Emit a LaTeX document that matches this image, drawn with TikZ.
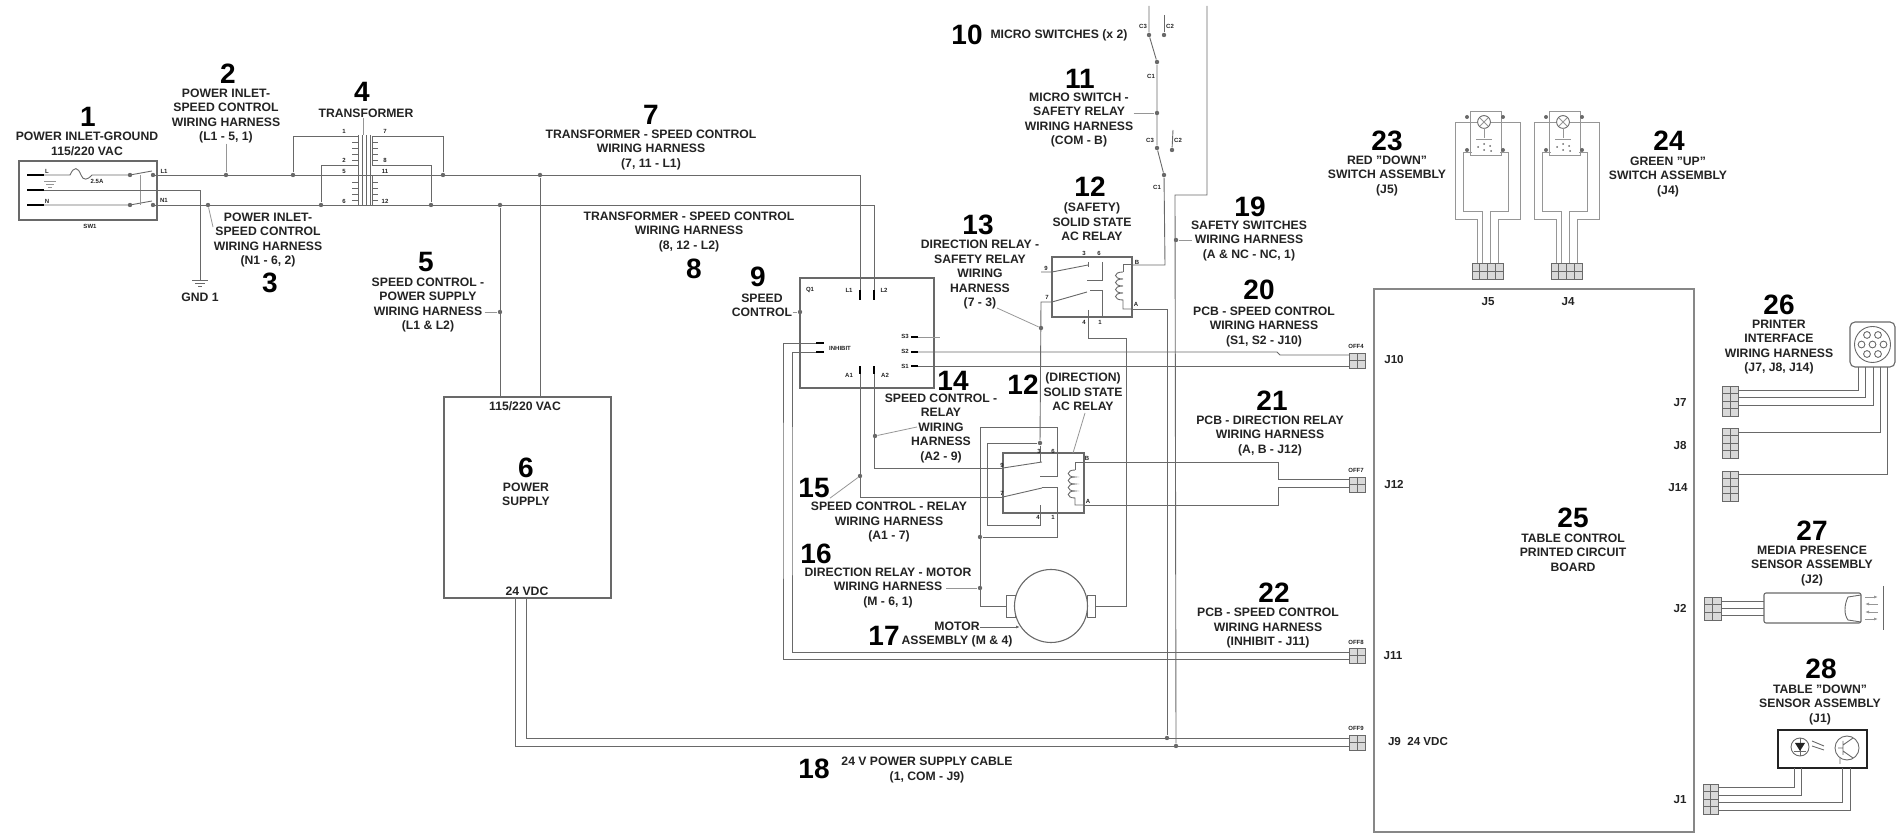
\documentclass[tikz,border=0pt]{standalone}
\usepackage{fontspec}
\setmainfont{Liberation Sans}
\usetikzlibrary{arrows.meta, positioning, calc}
\definecolor{wirecol}{RGB}{105, 105, 105}
\definecolor{inkcol}{RGB}{35, 35, 35}

\tikzset{
    wire/.style={draw=wirecol, line width=0.45pt},
    thinwire/.style={draw=wirecol!70, line width=0.4pt},
    box/.style={draw=wirecol, line width=0.65pt, inner sep=0pt},
    lbl/.style={font=\fontsize{6.1}{7.25}\selectfont\bfseries, text=inkcol, align=center, inner sep=0pt},
    num/.style={font=\fontsize{14}{14}\selectfont\bfseries, text=black, inner sep=0pt},
    pin/.style={font=\fontsize{3}{3.5}\selectfont\bfseries, text=inkcol, inner sep=0pt},
    jlbl/.style={font=\fontsize{5.8}{7}\selectfont\bfseries, text=inkcol, inner sep=0pt},
    dot/.style={circle, fill=wirecol, inner sep=0pt, minimum size=2.2pt},
    term/.style={draw=black, line width=1.3pt},
    plugline/.style={draw=wirecol, line width=0.35pt, fill=gray!30}
}

\newcommand{\plugbox}[6]{
    \foreach \i in {1,...,#3}
        \foreach \j in {1,...,#4}
            \draw[plugline] ({#1+(\i-1)*#5},{#2+(\j-1)*#6}) rectangle ++(#5,#6);
}

\begin{document}
\begin{tikzpicture}[x=0.5pt, y=-0.5pt]
    \useasboundingbox (0,0) rectangle (1902,833);

    % Boxes
    \node[box, minimum width=69pt, minimum height=29.5pt] (inlet) at (88,190.5) {};
    \node[box, minimum width=83.5pt, minimum height=100.5pt] (pwr) at (527.5,497.5) {};
    \node[box, minimum width=67pt, minimum height=55pt] (spd) at (867,333) {};
    \node[box, minimum width=40pt, minimum height=30pt] (relayA) at (1092,287) {};
    \node[box, minimum width=40.5pt, minimum height=30pt] (relayB) at (1043.5,483) {};
    \node[box, draw=wirecol!80, line width=0.8pt, minimum width=160pt, minimum height=271.5pt] (pcb) at (1534,560.5) {};

    % Wire ends
    \foreach \n/\a/\b in {
        lin/44/175, ein/44/190, nin/44/205, fusea/70/175, fuseb/92/175,
        swLa/130/175, swLb/153/175, swLt/152/171, swNa/130/205, swNb/153/205, swNt/152/201,
        gndtop/200/280, spLa/860/290, spLb/874/290, spAa/860/374, spAb/874/374,
        spIa/816/343, spIb/816/352, spSc/918/337, spSb/918/352, spSa/918/366, spSe/940/337,
        supA/526/598, supB/515/598, xfmrTop/363/135,
        off4a/1349/355, off4b/1349/366, off7a/1349/479, off7b/1349/487,
        off8a/1349/652, off8b/1349/659, off9a/1349/738, off9b/1349/746,
        msTop/1149/6, msTopB/1164/15, lineTop/1207/6, lineBend/1175/195,
        aIn/1003/468, bIn/1003/497, aOut/1084/462, bOut/1084/505,
        sB/1132/265, sA/1132/309, s3/1088/310, sIn/1052/302, sIn2/1052/272, sOut2/1041/272,
        mLeft/1006/606, mRight/1095/606, mTip/1020/627
    }{\coordinate (\n) at (\a,\b);}

    % Junctions
    \foreach \n/\a/\b in {
        dA/293/175, dB/321/205, dC/431/205, dD/443/175, dE/500/205, dF/540/175,
        tap2/226/175, tap3/208/205, dsw1/130/175, dsw2/153/175, dsw3/130/205, dsw4/153/205,
        tap5/500/312, tap9/800/312,
        ms1/1149/35, ms2/1164/35, ms3/1157/62, tap11/1157/113, ms4/1157/148, ms5/1172/150, ms6/1164/175,
        tap13/1041/328, dLoop/1040/443, tap14/875/436, tap15/860/476, dOuter/980/537, tap16/980/588,
        tap19/1176/240, dG/1167/738, dH/1176/746
    }{\node[dot] (\n) at (\a,\b) {};}

    % Power inlet
    \foreach \a in {lin, ein, nin}
        \draw[term] ($(\a)+(-17,0)$) -- (\a);
    \draw[wire] (lin) -- (fusea) .. controls (74,166) and (78,167) .. (81,175) .. controls (83,181) and (88,180) .. (fuseb) -- (swLa);
    \draw[wire] (swLa) -- (swLt);
    \draw[wire] (nin) -- (swNa) -- (swNt);
    \draw[thinwire] (140,175) -- (140,205);
    \draw[wire] (swLb) -- (swLb -| spLa) -- (spLa);
    \draw[wire] (swNb) -- (swNb -| spLb) -- (spLb);
    \draw[wire] (ein) -| (gndtop);
    \draw[wire] (192,280) -- (208,280) (195,283) -- (205,283) (198,286) -- (202,286);
    \draw[thinwire] (44,181) -- (56,181) (46,184) -- (54,184) (48,187) -- (52,187);

    % Transformer
    \foreach \a in {358,362,366,370}
        \draw[wire] (\a,135) -- (\a,205);
    \foreach \a in {142,148,154,160,182,188,194,200} {
        \draw[wire] (352,\a) -- (358,\a);
        \draw[wire] (372,\a) -- (378,\a);
    }
    \draw[wire] (358,136) -| (dA);
    \draw[wire] (358,165) -| (dB);
    \draw[wire] (372,136) -| (dD);
    \draw[wire] (372,165) -| (dC);
    \draw[wire] (372,136) -- (372,165) (372,175) -- (372,205);

    % Power supply feed and output
    \draw[wire] (dE) -- (dE |- pwr.north);
    \draw[wire] (dF) -- (dF |- pwr.north);
    \draw[wire] (supA) |- (off9a);
    \draw[wire] (supB) |- (off9b);

    % Speed control terminals
    \draw[term] (spLa) -- ++(0,10);
    \draw[term] (spLb) -- ++(0,10);
    \draw[term] (spAa) -- ++(0,-8);
    \draw[term] (spAb) -- ++(0,-8);
    \draw[term] (spIa) -- ++(8,0);
    \draw[term] (spIb) -- ++(8,0);
    \draw[term] (spSc) -- ++(-7,0);
    \draw[term] (spSb) -- ++(-7,0);
    \draw[term] (spSa) -- ++(-7,0);
    \draw[thinwire] (spSc) -- (spSe);
    \draw[wire] (spSb) -- (1277,352) -- (1280,355) -- (off4a);
    \draw[wire] (spSa) -- (off4b);
    \draw[wire] (spIa) -| (783,500) |- (off8b);
    \draw[wire] (spIb) -| (792,500) |- (off8a);
    \draw[wire] (spAa) |- (bIn);
    \draw[wire] (spAb) |- (aIn);

    % Micro switches
    \draw[wire] (msTop) -- (ms1) -- (ms3) -- (ms4) -- (ms6) -- (1165,265) -- (sB);
    \draw[wire] (msTopB) -- (ms2);
    \draw[wire] (1173,130) -- (ms5);
    \draw[wire] (lineTop) |- (lineBend) -- (dH);
    \draw[wire] (sA) -- (1167,309) -- (dG);

    % Safety relay
    \draw[wire] (sOut2) -- (sIn2) -- (1088,265);
    \draw[wire] (1088,262) -- (1088,267);
    \draw[wire] (1102,262) -- (1102,280) -- (1087,280);
    \draw[wire] (sIn) -- (1087,292);
    \draw[wire] (1090,290) -- (1102,290) -- (1102,318);
    \draw[wire] (1131,264) -- (1123,264) -- (1123,272);
    \draw[wire] (1123,272) \foreach \a in {272,279,286,293} { .. controls (1113,\a) and (1113,\a+7) .. (1123,\a+7) } -- (1123,309) -- (1131,309);
    \draw[wire] (s3) |- (1126,338) -- (1126,606) -- (mRight);
    \draw[wire] (sIn) -- (1041,302) -- (dLoop);

    % Direction relay
    \draw[wire] (dLoop) -- (1040,462);
    \draw[wire] (aIn) -- (1042,462);
    \draw[wire] (bIn) -- (1042,488);
    \draw[wire] (dLoop) -- (987,443) -- (987,525) -- (1040,525) -- (1040,505);
    \draw[wire] (1040,476) -- (1057,476) -- (1057,427) -- (980,427) |- (mLeft);
    \draw[wire] (1042,487) -- (1057,487) -- (1057,537) -- (dOuter);
    \draw[wire] (aOut) -- (1075,462) -- (1075,470);
    \draw[wire] (1075,470) \foreach \a in {470,477,484,491} { .. controls (1066,\a) and (1066,\a+7) .. (1075,\a+7) } -- (1075,505) -- (bOut);
    \draw[wire] (aOut) -| (1278,479) -- (off7a);
    \draw[wire] (bOut) -| (1278,487) -- (off7b);

    % Motor
    \draw[wire] (1006,595) rectangle (1015,617);
    \draw[wire] (1087,595) rectangle (1095,617);
    \node[draw=wirecol, line width=0.55pt, circle, fill=white, minimum size=36.5pt, inner sep=0pt] (motor) at (1051,606) {};

    % Plugs
    \plugbox{1349}{353}{2}{2}{8}{7.5}
    \plugbox{1349}{477}{2}{2}{8}{7.5}
    \plugbox{1349}{648}{2}{2}{8}{7.5}
    \plugbox{1349}{735}{2}{2}{8}{7.5}
    \plugbox{1722}{386}{2}{4}{8}{7.5}
    \plugbox{1722}{428}{2}{4}{8}{7.5}
    \plugbox{1722}{471}{2}{4}{8}{7.5}
    \plugbox{1704}{597}{2}{3}{8.5}{7.7}
    \plugbox{1703}{784}{2}{4}{7.5}{7.5}

    % Switch assemblies
    \foreach \dx in {0,79} {
        \begin{scope}[shift={(\dx,0)}]
            \plugbox{1472}{263}{4}{2}{7.75}{8}
            \draw[thinwire] (1477,263) |- (1455,219) |- (1478,122);
            \draw[thinwire] (1498,263) |- (1520,219) |- (1490,122);
            \draw[thinwire] (1482,263) |- (1463,211) |- (1472,152);
            \draw[thinwire] (1490,263) |- (1508,211) |- (1500,152);
            \draw[thinwire] (1470,155) -- (1470,111) -- (1501,111) -- (1501,155) -- cycle;
            \draw[wire, fill=white] (1484,122) circle (3.2pt);
            \draw[thinwire] (1480,118) -- (1488,126) (1480,126) -- (1488,118);
            \draw[thinwire] (1484,128) -- (1484,138) (1476,139) -- (1492,139);
            \fill[wirecol] (1467,117) circle (1pt) (1503,117) circle (1pt) (1467,150) circle (1pt) (1503,150) circle (1pt);
            \fill[wirecol] (1478,147) circle (0.5pt) (1484,144) circle (0.5pt) (1490,146) circle (0.5pt) (1484,150) circle (0.5pt) (1491,151) circle (0.5pt);
        \end{scope}
    }

    % Printer connector
    \node[draw=wirecol, line width=0.55pt, rounded corners=2.5pt, minimum size=22.5pt, inner sep=0pt] (prt) at (1872.5,344.5) {};
    \draw[wire] (prt.center) circle (9pt);
    \draw[wire] (prt.center) circle (1.7pt);
    \foreach \ang in {0,60,...,300}
        \draw[wire] (prt.center) ++(\ang:11) circle (1.7pt);
    \draw[wire] (1858,367) |- (1738,390);
    \draw[wire] (1865,367) |- (1738,397);
    \draw[wire] (1873,367) |- (1738,405);
    \draw[wire] (1880,367) |- (1738,432);
    \draw[wire] (1887,367) |- (1738,474);

    % Media sensor
    \node[draw=wirecol, line width=0.55pt, rounded corners=1pt, minimum width=48.5pt, minimum height=15pt, inner sep=0pt] (media) at (1812.5,608) {};
    \draw[wire] (1861,595) -- (1848,597) .. controls (1844,605) and (1844,615) .. (1848,620) -- (1861,622);
    \draw[wire] (1721,601) -- (1764,601) (1721,608) -- (1764,608) (1721,615) -- (1764,615);
    \draw[wire] (1883,586) -- (1883,630);
    \draw[thinwire, -{Latex[length=2pt]}] (1865,597) -- (1878,597);
    \draw[thinwire, -{Latex[length=2pt]}] (1878,604) -- (1865,604);
    \draw[thinwire, -{Latex[length=2pt]}] (1878,612) -- (1865,612);
    \draw[thinwire, -{Latex[length=2pt]}] (1865,619) -- (1878,619);

    % Table sensor
    \node[draw=inkcol, line width=0.9pt, minimum width=44.5pt, minimum height=19pt, inner sep=0pt] (down) at (1822.5,749) {};
    \draw[wire] (1800,747) circle (4.5pt);
    \draw[wire] (1800,738) -- (1800,756) (1794,751) -- (1806,751);
    \fill[inkcol] (1795,743) -- (1805,743) -- (1800,751) -- cycle;
    \draw[wire] (1812,741) -- (1824,746) (1812,746) -- (1824,750);
    \draw[wire] (1847,748) circle (6pt);
    \draw[wire] (1843,741) -- (1843,755) (1843,745) -- (1853,738) (1843,751) -- (1853,758) (1838,748) -- (1843,748) (1840,758) -- (1840,764);
    \draw[wire] (1794,768) |- (1718,787);
    \draw[wire] (1801,768) |- (1718,795);
    \draw[wire] (1842,768) |- (1718,802);
    \draw[wire] (1850,768) |- (1718,810);

    % Numbers
    \foreach \t/\a/\b [count=\k] in {
        1/88/117, 2/228/74, 3/270/283, 4/362/92, 5/426/262, 6/526/468, 7/651/115, 8/694/269,
        9/758/277, 10/967/35, 11/1080/79, 12/1090/187, 13/978/225, 14/953/381, 12/1023/385,
        15/814/488, 16/816/554, 17/884/636, 18/814/769, 19/1250/207, 20/1259/290, 21/1272/401,
        22/1274/593, 23/1387/141, 24/1669/141, 25/1573/518, 26/1779/305, 27/1812/531, 28/1821/669
    }{\node[num] (num\k) at (\a,\b) {\t};}

    % Labels
    \node[lbl] (lblInlet) at (87,144) {POWER INLET-GROUND\\115/220 VAC};
    \node[lbl] (lblTwo) at (226,116) {POWER INLET-\\SPEED CONTROL\\WIRING HARNESS\\(L1 - 5, 1)};
    \node[lbl] (lblThree) at (268,240) {POWER INLET-\\SPEED CONTROL\\WIRING HARNESS\\(N1 - 6, 2)};
    \node[lbl] (lblXfmr) at (366,113) {TRANSFORMER};
    \node[lbl] (lblGnd) at (200,297) {GND 1};
    \node[lbl] (lblFive) at (428,305) {SPEED CONTROL -\\POWER SUPPLY\\WIRING HARNESS\\(L1 \& L2)};
    \node[lbl] (lblVac) at (525,406) {115/220 VAC};
    \node[lbl] (lblPwr) at (526,494.5) {POWER\\SUPPLY};
    \node[lbl] (lblVdc) at (527,591) {24 VDC};
    \node[lbl] (lblSeven) at (651,150) {TRANSFORMER - SPEED CONTROL\\WIRING HARNESS\\(7, 11 - L1)};
    \node[lbl] (lblEight) at (689,232) {TRANSFORMER - SPEED CONTROL\\WIRING HARNESS\\(8, 12 - L2)};
    \node[lbl] (lblNine) at (762,305.5) {SPEED\\CONTROL};
    \node[lbl] (lblTen) at (1059,35) {MICRO SWITCHES (x 2)};
    \node[lbl] (lblEleven) at (1079,120) {MICRO SWITCH -\\SAFETY RELAY\\WIRING HARNESS\\(COM - B)};
    \node[lbl] (lblSafe) at (1092,222) {(SAFETY)\\SOLID STATE\\AC RELAY};
    \node[lbl] (lblThirteen) at (980,275) {DIRECTION RELAY -\\SAFETY RELAY\\WIRING\\HARNESS\\(7 - 3)};
    \node[lbl] (lblNineteen) at (1249,241) {SAFETY SWITCHES\\WIRING HARNESS\\(A \& NC - NC, 1)};
    \node[lbl] (lblTwenty) at (1264,327) {PCB - SPEED CONTROL\\WIRING HARNESS\\(S1, S2 - J10)};
    \node[lbl] (lblFourteen) at (941,428.5) {SPEED CONTROL -\\RELAY\\WIRING\\HARNESS\\(A2 - 9)};
    \node[lbl] (lblDir) at (1083,392) {(DIRECTION)\\SOLID STATE\\AC RELAY};
    \node[lbl] (lblFifteen) at (889,522.5) {SPEED CONTROL - RELAY\\WIRING HARNESS\\(A1 - 7)};
    \node[lbl] (lblSixteen) at (888,588) {DIRECTION RELAY - MOTOR\\WIRING HARNESS\\(M - 6, 1)};
    \node[lbl] (lblMotor) at (957,634.5) {MOTOR\\ASSEMBLY (M \& 4)};
    \node[lbl] (lblCable) at (927,770) {24 V POWER SUPPLY CABLE\\(1, COM - J9)};
    \node[lbl] (lblTwentyOne) at (1270,436) {PCB - DIRECTION RELAY\\WIRING HARNESS\\(A, B - J12)};
    \node[lbl] (lblTwentyTwo) at (1268,628.5) {PCB - SPEED CONTROL\\WIRING HARNESS\\(INHIBIT - J11)};
    \node[lbl] (lblRed) at (1387,176) {RED "DOWN"\\SWITCH ASSEMBLY\\(J5)};
    \node[lbl] (lblGreen) at (1668,177) {GREEN "UP"\\SWITCH ASSEMBLY\\(J4)};
    \node[lbl] (lblPcb) at (1573,552.5) {TABLE CONTROL\\PRINTED CIRCUIT\\BOARD};
    \node[lbl] (lblPrinter) at (1779,347) {PRINTER\\INTERFACE\\WIRING HARNESS\\(J7, J8, J14)};
    \node[lbl] (lblMedia) at (1812,566) {MEDIA PRESENCE\\SENSOR ASSEMBLY\\(J2)};
    \node[lbl] (lblDown) at (1820,705) {TABLE "DOWN"\\SENSOR ASSEMBLY\\(J1)};

    % Jack labels
    \foreach \t/\a/\b [count=\k] in {
        J5/1488/302, J4/1568/302, J10/1394/360, J12/1394/485, J7/1680/403, J8/1680/446, J14/1678/488,
        J2/1680/609, J1/1680/800, J11/1393/656, J9\ \ 24 VDC/1418/742
    }{\node[jlbl] (jack\k) at (\a,\b) {\t};}

    % Pin labels
    \foreach \t/\a/\b [count=\k] in {
        L/47/171, N/47/201, L1/164/171, N1/164/200, 2.5A/97/181, SW1/90/226,
        1/344/131, 2/344/160, 5/344/171, 6/344/201, 7/385/131, 8/385/160, 11/385/171, 12/385/201,
        Q1/810/290, L1/849/290, L2/884/290, S3/905/336, S2/905/351, S1/905/366, A1/849/375, A2/885/375, INHIBIT/840/348,
        C3/1143/26, C2/1170/26, C1/1151/76, C3/1150/140, C2/1178/140, C1/1157/187,
        3/1084/253, 6/1099/253, 9/1046/268, 7/1047/297, 4/1084/322, 1/1100/322, B/1137/262, A/1136/304,
        3/1039/451, 6/1053/451, 9/1002/465, 7/1002/493, 4/1038/517, 1/1053/517, B/1087/458, A/1088/501,
        OFF4/1356/346, OFF7/1356/470, OFF8/1356/642, OFF9/1356/728
    }{\node[pin] (pin\k) at (\a,\b) {\t};}

    % Leaders
    \draw[thinwire] (lblTwo.south -| tap2) -- (tap2);
    \draw[thinwire] (tap3) -- (213,227);
    \draw[thinwire] (lblXfmr.south -| xfmrTop) -- (xfmrTop);
    \draw[thinwire] (lblFive.east |- tap5) -- (tap5);
    \draw[thinwire] (lblNine.east |- tap9) -- (tap9);
    \draw[thinwire] (lblEleven.east |- tap11) -- (tap11);
    \draw[thinwire] (997,308) -- (tap13);
    \draw[thinwire] (917,427) -- (tap14);
    \draw[thinwire] (num16.south east) -- (tap15);
    \draw[thinwire] (1085,413) -- (1073,453);
    \draw[thinwire] (946,588) -- (tap16);
    \draw[wire, -{Latex[length=2pt]}] (980,627) -- (mTip);
    \draw[thinwire] (tap19) -- (1192,240);
\end{tikzpicture}
\end{document}
